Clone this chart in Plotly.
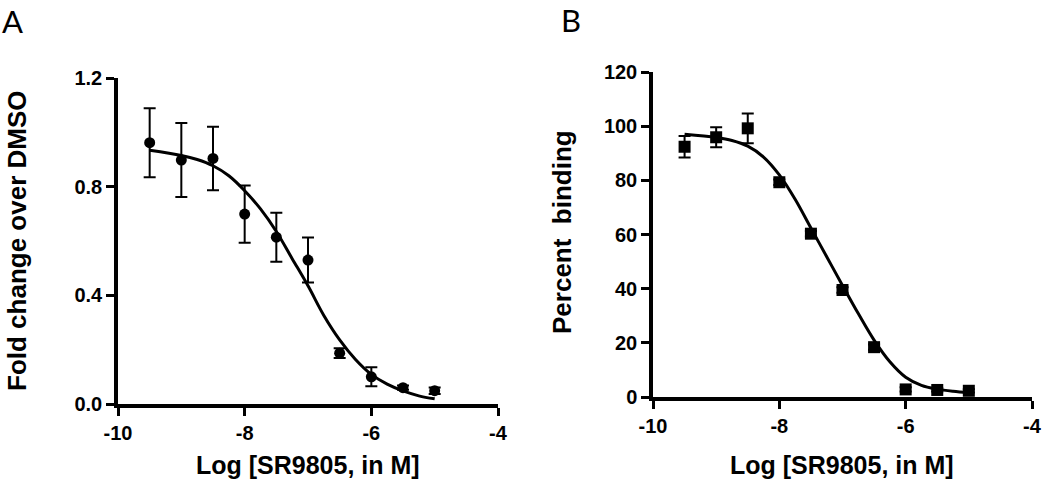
import plotly.graph_objects as go

# ---------------- data ----------------
log_conc = [-9.5, -9.0, -8.5, -8.0, -7.5, -7.0, -6.5, -6.0, -5.5, -5.0]

# Panel A: fold change over DMSO
fold_change = [0.962, 0.898, 0.904, 0.699, 0.614, 0.530, 0.187, 0.100, 0.060, 0.049]
fold_err = [0.127, 0.136, 0.117, 0.105, 0.090, 0.083, 0.018, 0.035, 0.008, 0.012]

# fitted curve for panel A
curve_x = [-9.5, -9.0, -8.75, -8.5, -8.25, -8.0, -7.75, -7.5, -7.25, -7.0,
           -6.75, -6.5, -6.25, -6.0, -5.75, -5.5, -5.25, -5.0]
curve_a = [0.934, 0.915, 0.900, 0.877, 0.840, 0.785, 0.718, 0.635, 0.535, 0.435,
           0.326, 0.236, 0.164, 0.109, 0.073, 0.048, 0.030, 0.019]

# Panel B: percent binding
binding = [92.4, 95.9, 99.2, 79.3, 60.3, 39.5, 18.4, 2.8, 2.6, 2.3]
binding_err = [4.0, 3.7, 5.5, 1.0, 1.0, 1.0, 1.0, 0.8, 0.6, 0.6]
curve_b = [97.0, 95.8, 94.7, 92.6, 88.6, 82.0, 73.0, 62.4, 51.8, 41.2,
           30.8, 21.0, 13.0, 7.3, 4.3, 2.9, 2.1, 1.6]

x_ticks = [-10, -8, -6, -4]
x_ticklabels = ["-10", "-8", "-6", "-4"]
a_yticks = [0.0, 0.4, 0.8, 1.2]
a_yticklabels = ["0.0", "0.4", "0.8", "1.2"]
b_yticks = [0, 20, 40, 60, 80, 100, 120]

x_title = "Log [SR9805, in M]"
a_ytitle = "Fold change over DMSO"
b_ytitle = "Percent\u00a0\u00a0binding"

# ---------------- figure ----------------
W, H = 1050, 480
fig = go.Figure()

fig.add_trace(go.Scatter(x=curve_x, y=curve_a, mode="lines", line=dict(color="black", width=3, shape="spline"),
                         xaxis="x", yaxis="y", hoverinfo="skip", cliponaxis=False))
fig.add_trace(go.Scatter(x=log_conc, y=fold_change, mode="markers",
                         marker=dict(symbol="circle", size=11, color="black"),
                         error_y=dict(type="data", array=fold_err, color="black", thickness=2, width=6),
                         xaxis="x", yaxis="y", cliponaxis=False))

fig.add_trace(go.Scatter(x=curve_x, y=curve_b, mode="lines", line=dict(color="black", width=3, shape="spline"),
                         xaxis="x2", yaxis="y2", hoverinfo="skip", cliponaxis=False))
fig.add_trace(go.Scatter(x=log_conc, y=binding, mode="markers",
                         marker=dict(symbol="square", size=12, color="black"),
                         error_y=dict(type="data", array=binding_err, color="black", thickness=2, width=6),
                         xaxis="x2", yaxis="y2", cliponaxis=False))

tickfont = dict(family="Liberation Sans, Arial, sans-serif", size=20, color="black", weight="bold")
axis_common = dict(showline=True, linecolor="black", linewidth=3.5, ticks="outside", ticklen=8,
                   tickwidth=3, tickcolor="black", showgrid=False, zeroline=False,
                   tickfont=tickfont, automargin=False, fixedrange=True)


def px_x(p):
    return p / W


def px_y(p):
    return 1 - p / H


fig.update_layout(
    width=W, height=H,
    margin=dict(l=0, r=0, t=0, b=0),
    paper_bgcolor="white", plot_bgcolor="white",
    showlegend=False,
    xaxis=dict(domain=[px_x(118), px_x(498)], range=[-10, -4], tickvals=x_ticks, ticktext=x_ticklabels,
               anchor="y", **axis_common),
    yaxis=dict(domain=[px_y(404), px_y(78)], range=[0, 1.2], tickvals=a_yticks, ticktext=a_yticklabels,
               anchor="x", **axis_common),
    xaxis2=dict(domain=[px_x(653), px_x(1032)], range=[-10, -4], tickvals=x_ticks, ticktext=x_ticklabels,
                anchor="y2", **axis_common),
    yaxis2=dict(domain=[px_y(397), px_y(72)], range=[0, 120], tickvals=b_yticks, anchor="x2", **axis_common),
)

ytitle_font = dict(family="Liberation Sans, Arial, sans-serif", size=26, color="black", weight="bold")
xtitle_font = dict(family="Liberation Sans, Arial, sans-serif", size=25, color="black", weight="bold")
letter_font = dict(family="Lato, Open Sans, sans-serif", size=31, color="black")

annotations = [
    dict(text="A", x=px_x(0), y=px_y(21), xanchor="left", yanchor="middle", font=letter_font),
    dict(text="B", x=px_x(559), y=px_y(20), xanchor="left", yanchor="middle", font=letter_font),
    dict(text=x_title, x=px_x(308), y=px_y(465), xanchor="center", yanchor="middle", font=xtitle_font),
    dict(text=x_title, x=px_x(842), y=px_y(465), xanchor="center", yanchor="middle", font=xtitle_font),
    dict(text=a_ytitle, x=px_x(17), y=px_y(241), xanchor="center", yanchor="middle", textangle=-90, font=ytitle_font),
    dict(text=b_ytitle, x=px_x(562), y=px_y(232), xanchor="center", yanchor="middle", textangle=-90, font=ytitle_font),
]
for a in annotations:
    a.update(xref="paper", yref="paper", showarrow=False)
fig.update_layout(annotations=annotations)

fig.write_html("out.html", config={"displayModeBar": False},
               post_script="document.body.style.margin='0';")
